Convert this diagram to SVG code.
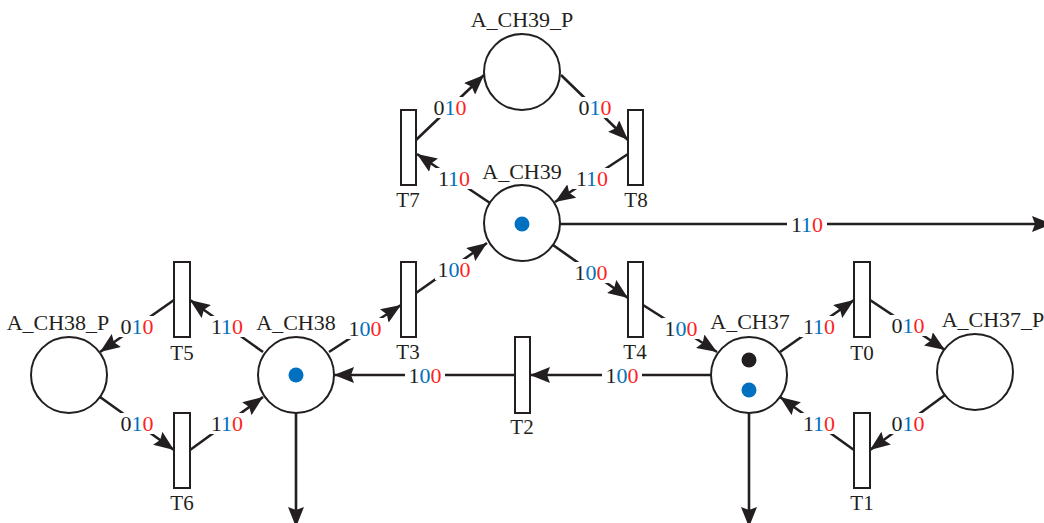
<svg xmlns="http://www.w3.org/2000/svg" width="1044" height="523" viewBox="0 0 1044 523">
  <style>
    .place { fill: #ffffff; stroke: #231f20; stroke-width: 2; }
    .trans { fill: #ffffff; stroke: #231f20; stroke-width: 2; }
    .arc { fill: none; stroke: #231f20; stroke-width: 2.6; marker-end: url(#ah); }
    .lbl { font-family: "Liberation Serif", "Times New Roman", serif; font-size: 22px; fill: #231f20; text-anchor: middle; }
    .tl { font-family: "Liberation Serif", "Times New Roman", serif; font-size: 21px; fill: #231f20; text-anchor: middle; }
    .w { font-family: "Liberation Serif", "Times New Roman", serif; font-size: 22px; fill: #231f20; text-anchor: middle; }
    .bg { fill: #ffffff; }
    .b { fill: #0070c0; }
    .r { fill: #ff1f1f; }
    .tokB { fill: #0070c0; }
    .tokK { fill: #231f20; }
  </style>
  <defs>
    <marker id="ah" viewBox="0 0 20 16" refX="20" refY="8" markerWidth="20" markerHeight="16" markerUnits="userSpaceOnUse" orient="auto">
      <path d="M0,0 L20,8 L0,16 L3,8 z" fill="#231f20"/>
    </marker>
  </defs>

  <!-- arcs with their weight labels -->
  <g id="connectors">
    <line class="arc" x1="416" y1="140" x2="484" y2="75"/>
    <line class="arc" x1="561" y1="75" x2="628" y2="140"/>
    <line class="arc" x1="490" y1="203" x2="417" y2="154"/>
    <line class="arc" x1="628" y1="154" x2="555" y2="202"/>
    <line class="arc" x1="560" y1="224" x2="1052" y2="224"/>
    <line class="arc" x1="416" y1="293" x2="487" y2="243"/>
    <line class="arc" x1="553" y1="245" x2="628" y2="298"/>
    <line class="arc" x1="329" y1="352" x2="401" y2="305"/>
    <line class="arc" x1="643" y1="305" x2="717" y2="352"/>
    <line class="arc" x1="711" y1="375" x2="530" y2="375"/>
    <line class="arc" x1="515" y1="375" x2="334" y2="375"/>
    <line class="arc" x1="263" y1="352" x2="190" y2="300"/>
    <line class="arc" x1="174" y1="300" x2="100" y2="352"/>
    <line class="arc" x1="100" y1="397" x2="174" y2="450"/>
    <line class="arc" x1="190" y1="450" x2="263" y2="397"/>
    <line class="arc" x1="296" y1="413" x2="296" y2="527"/>
    <line class="arc" x1="780" y1="352" x2="854" y2="300"/>
    <line class="arc" x1="870" y1="300" x2="945" y2="350"/>
    <line class="arc" x1="945" y1="395" x2="870" y2="450"/>
    <line class="arc" x1="854" y1="450" x2="780" y2="397"/>
    <line class="arc" x1="749" y1="413" x2="749" y2="527"/>

    <g id="weights">
      <rect class="bg" x="431" y="97" width="38" height="21"/>
      <text class="w" x="450" y="115">0<tspan class="b">1</tspan><tspan class="r">0</tspan></text>
      <rect class="bg" x="576" y="97" width="38" height="21"/>
      <text class="w" x="595" y="115">0<tspan class="b">1</tspan><tspan class="r">0</tspan></text>
      <rect class="bg" x="435" y="168" width="38" height="21"/>
      <text class="w" x="454" y="186">1<tspan class="b">1</tspan><tspan class="r">0</tspan></text>
      <rect class="bg" x="573" y="168" width="38" height="21"/>
      <text class="w" x="592" y="186">1<tspan class="b">1</tspan><tspan class="r">0</tspan></text>
      <rect class="bg" x="787" y="214" width="40" height="21"/>
      <text class="w" x="807" y="232">1<tspan class="b">1</tspan><tspan class="r">0</tspan></text>
      <rect class="bg" x="435" y="259" width="38" height="21"/>
      <text class="w" x="454" y="277">1<tspan class="b">0</tspan><tspan class="r">0</tspan></text>
      <rect class="bg" x="572" y="262" width="38" height="21"/>
      <text class="w" x="591" y="280">1<tspan class="b">0</tspan><tspan class="r">0</tspan></text>
      <rect class="bg" x="346" y="318" width="38" height="21"/>
      <text class="w" x="365" y="336">1<tspan class="b">0</tspan><tspan class="r">0</tspan></text>
      <rect class="bg" x="662" y="318" width="38" height="21"/>
      <text class="w" x="681" y="336">1<tspan class="b">0</tspan><tspan class="r">0</tspan></text>
      <rect class="bg" x="602" y="365" width="40" height="21"/>
      <text class="w" x="622" y="383">1<tspan class="b">0</tspan><tspan class="r">0</tspan></text>
      <rect class="bg" x="405" y="365" width="40" height="21"/>
      <text class="w" x="425" y="383">1<tspan class="b">0</tspan><tspan class="r">0</tspan></text>
      <rect class="bg" x="208" y="316" width="38" height="21"/>
      <text class="w" x="227" y="334">1<tspan class="b">1</tspan><tspan class="r">0</tspan></text>
      <rect class="bg" x="118" y="316" width="38" height="21"/>
      <text class="w" x="137" y="334">0<tspan class="b">1</tspan><tspan class="r">0</tspan></text>
      <rect class="bg" x="118" y="413" width="38" height="21"/>
      <text class="w" x="137" y="431">0<tspan class="b">1</tspan><tspan class="r">0</tspan></text>
      <rect class="bg" x="208" y="413" width="38" height="21"/>
      <text class="w" x="227" y="431">1<tspan class="b">1</tspan><tspan class="r">0</tspan></text>
      <rect class="bg" x="800" y="316" width="38" height="21"/>
      <text class="w" x="819" y="334">1<tspan class="b">1</tspan><tspan class="r">0</tspan></text>
      <rect class="bg" x="889" y="315" width="38" height="21"/>
      <text class="w" x="908" y="333">0<tspan class="b">1</tspan><tspan class="r">0</tspan></text>
      <rect class="bg" x="889" y="413" width="38" height="21"/>
      <text class="w" x="908" y="431">0<tspan class="b">1</tspan><tspan class="r">0</tspan></text>
      <rect class="bg" x="800" y="413" width="38" height="21"/>
      <text class="w" x="819" y="431">1<tspan class="b">1</tspan><tspan class="r">0</tspan></text>
    </g>
  </g>

  <!-- places -->
  <g id="A_CH39_P">
    <circle class="place" cx="522" cy="72" r="38"/>
    <text class="lbl" x="522" y="27">A_CH39_P</text>
  </g>
  <g id="A_CH39">
    <circle class="place" cx="522" cy="223" r="38"/>
    <text class="lbl" x="522" y="179">A_CH39</text>
    <circle class="tokB" cx="522" cy="224" r="7.5"/>
  </g>
  <g id="A_CH38_P">
    <circle class="place" cx="69" cy="375" r="38"/>
    <text class="lbl" x="58" y="330">A_CH38_P</text>
  </g>
  <g id="A_CH38">
    <circle class="place" cx="296" cy="375" r="38"/>
    <text class="lbl" x="296" y="330">A_CH38</text>
    <circle class="tokB" cx="296" cy="375" r="7.5"/>
  </g>
  <g id="A_CH37">
    <circle class="place" cx="749" cy="375" r="38"/>
    <text class="lbl" x="750" y="329">A_CH37</text>
    <circle class="tokK" cx="749" cy="360" r="7.5"/>
    <circle class="tokB" cx="749" cy="390" r="7.5"/>
  </g>
  <g id="A_CH37_P">
    <circle class="place" cx="975" cy="372" r="38"/>
    <text class="lbl" x="993" y="327">A_CH37_P</text>
  </g>

  <!-- transitions -->
  <g id="T7">
    <rect class="trans" x="401" y="110" width="15" height="75"/>
    <text class="tl" x="408" y="207">T7</text>
  </g>
  <g id="T8">
    <rect class="trans" x="628" y="110" width="15" height="75"/>
    <text class="tl" x="636" y="207">T8</text>
  </g>
  <g id="T5">
    <rect class="trans" x="174" y="262" width="16" height="75"/>
    <text class="tl" x="182" y="360">T5</text>
  </g>
  <g id="T6">
    <rect class="trans" x="174" y="413" width="16" height="75"/>
    <text class="tl" x="182" y="510">T6</text>
  </g>
  <g id="T3">
    <rect class="trans" x="401" y="262" width="15" height="75"/>
    <text class="tl" x="408" y="359">T3</text>
  </g>
  <g id="T4">
    <rect class="trans" x="628" y="262" width="15" height="75"/>
    <text class="tl" x="635" y="359">T4</text>
  </g>
  <g id="T2">
    <rect class="trans" x="515" y="337" width="15" height="76"/>
    <text class="tl" x="522" y="434">T2</text>
  </g>
  <g id="T0">
    <rect class="trans" x="854" y="262" width="16" height="75"/>
    <text class="tl" x="862" y="360">T0</text>
  </g>
  <g id="T1">
    <rect class="trans" x="854" y="413" width="16" height="75"/>
    <text class="tl" x="862" y="510">T1</text>
  </g>
</svg>
